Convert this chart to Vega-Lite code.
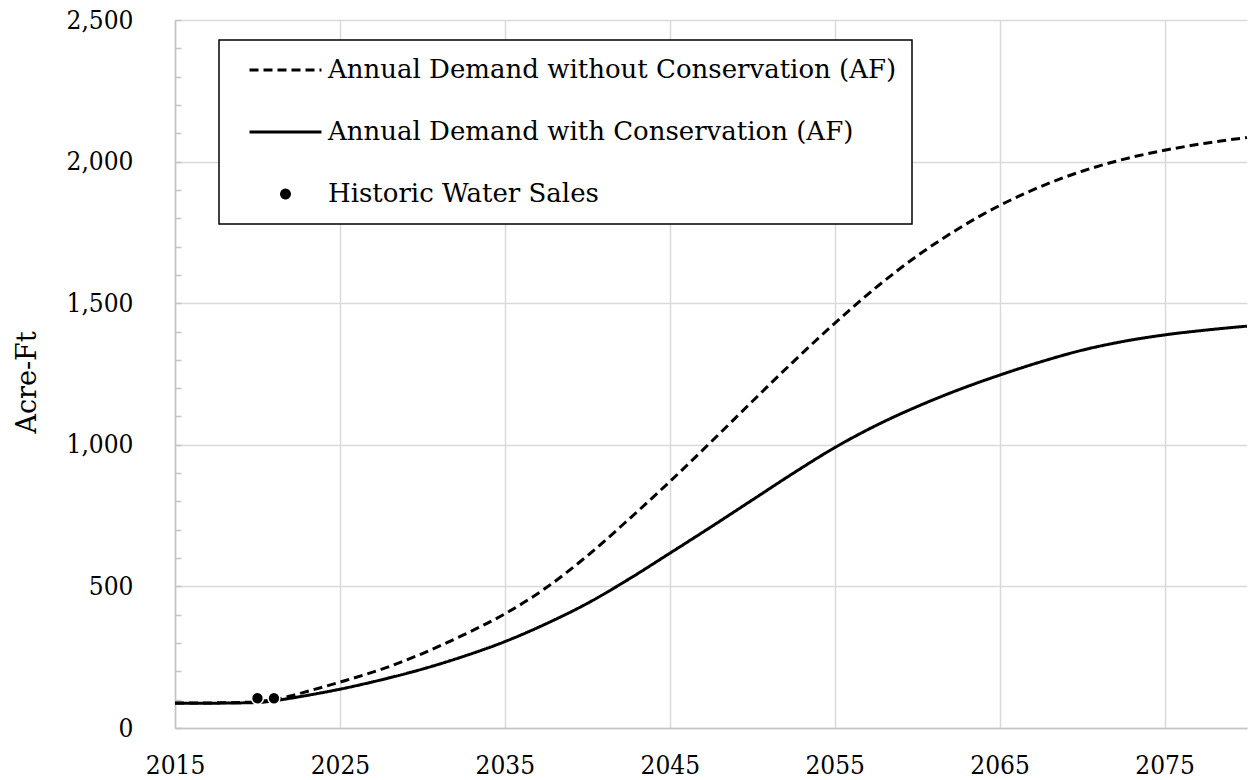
{
  "$schema": "https://vega.github.io/schema/vega-lite/v6.json",
  "width": 1072,
  "height": 708,
  "autosize": {"type": "none"},
  "padding": {"left": 175, "top": 20, "right": 6, "bottom": 52},
  "background": "white",
  "config": {
    "view": {"stroke": null},
    "font": "DejaVu Serif Condensed"
  },
  "datasets": {
    "demand": [
      {"year": 2015, "value": 88, "series": "Annual Demand without Conservation (AF)"},
      {"year": 2018, "value": 89, "series": "Annual Demand without Conservation (AF)"},
      {"year": 2020, "value": 93, "series": "Annual Demand without Conservation (AF)"},
      {"year": 2021, "value": 100, "series": "Annual Demand without Conservation (AF)"},
      {"year": 2022, "value": 113, "series": "Annual Demand without Conservation (AF)"},
      {"year": 2023, "value": 129, "series": "Annual Demand without Conservation (AF)"},
      {"year": 2025, "value": 162, "series": "Annual Demand without Conservation (AF)"},
      {"year": 2027.5, "value": 207, "series": "Annual Demand without Conservation (AF)"},
      {"year": 2030, "value": 263, "series": "Annual Demand without Conservation (AF)"},
      {"year": 2032.5, "value": 329, "series": "Annual Demand without Conservation (AF)"},
      {"year": 2035, "value": 403, "series": "Annual Demand without Conservation (AF)"},
      {"year": 2037.5, "value": 495, "series": "Annual Demand without Conservation (AF)"},
      {"year": 2040, "value": 608, "series": "Annual Demand without Conservation (AF)"},
      {"year": 2042.5, "value": 736, "series": "Annual Demand without Conservation (AF)"},
      {"year": 2045, "value": 870, "series": "Annual Demand without Conservation (AF)"},
      {"year": 2047.5, "value": 1010, "series": "Annual Demand without Conservation (AF)"},
      {"year": 2050, "value": 1153, "series": "Annual Demand without Conservation (AF)"},
      {"year": 2052.5, "value": 1294, "series": "Annual Demand without Conservation (AF)"},
      {"year": 2055, "value": 1429, "series": "Annual Demand without Conservation (AF)"},
      {"year": 2057.5, "value": 1555, "series": "Annual Demand without Conservation (AF)"},
      {"year": 2060, "value": 1667, "series": "Annual Demand without Conservation (AF)"},
      {"year": 2062.5, "value": 1763, "series": "Annual Demand without Conservation (AF)"},
      {"year": 2065, "value": 1845, "series": "Annual Demand without Conservation (AF)"},
      {"year": 2067.5, "value": 1912, "series": "Annual Demand without Conservation (AF)"},
      {"year": 2070, "value": 1966, "series": "Annual Demand without Conservation (AF)"},
      {"year": 2072.5, "value": 2008, "series": "Annual Demand without Conservation (AF)"},
      {"year": 2075, "value": 2040, "series": "Annual Demand without Conservation (AF)"},
      {"year": 2077.5, "value": 2065, "series": "Annual Demand without Conservation (AF)"},
      {"year": 2080, "value": 2085, "series": "Annual Demand without Conservation (AF)"},
      {"year": 2015, "value": 87, "series": "Annual Demand with Conservation (AF)"},
      {"year": 2018, "value": 88, "series": "Annual Demand with Conservation (AF)"},
      {"year": 2020, "value": 90, "series": "Annual Demand with Conservation (AF)"},
      {"year": 2021, "value": 96, "series": "Annual Demand with Conservation (AF)"},
      {"year": 2022, "value": 105, "series": "Annual Demand with Conservation (AF)"},
      {"year": 2023, "value": 115, "series": "Annual Demand with Conservation (AF)"},
      {"year": 2025, "value": 137, "series": "Annual Demand with Conservation (AF)"},
      {"year": 2027.5, "value": 170, "series": "Annual Demand with Conservation (AF)"},
      {"year": 2030, "value": 208, "series": "Annual Demand with Conservation (AF)"},
      {"year": 2032.5, "value": 253, "series": "Annual Demand with Conservation (AF)"},
      {"year": 2035, "value": 305, "series": "Annual Demand with Conservation (AF)"},
      {"year": 2037.5, "value": 368, "series": "Annual Demand with Conservation (AF)"},
      {"year": 2040, "value": 440, "series": "Annual Demand with Conservation (AF)"},
      {"year": 2042.5, "value": 525, "series": "Annual Demand with Conservation (AF)"},
      {"year": 2045, "value": 617, "series": "Annual Demand with Conservation (AF)"},
      {"year": 2047.5, "value": 710, "series": "Annual Demand with Conservation (AF)"},
      {"year": 2050, "value": 805, "series": "Annual Demand with Conservation (AF)"},
      {"year": 2052.5, "value": 900, "series": "Annual Demand with Conservation (AF)"},
      {"year": 2055, "value": 990, "series": "Annual Demand with Conservation (AF)"},
      {"year": 2057.5, "value": 1068, "series": "Annual Demand with Conservation (AF)"},
      {"year": 2060, "value": 1135, "series": "Annual Demand with Conservation (AF)"},
      {"year": 2062.5, "value": 1194, "series": "Annual Demand with Conservation (AF)"},
      {"year": 2065, "value": 1246, "series": "Annual Demand with Conservation (AF)"},
      {"year": 2067.5, "value": 1293, "series": "Annual Demand with Conservation (AF)"},
      {"year": 2070, "value": 1334, "series": "Annual Demand with Conservation (AF)"},
      {"year": 2072.5, "value": 1365, "series": "Annual Demand with Conservation (AF)"},
      {"year": 2075, "value": 1388, "series": "Annual Demand with Conservation (AF)"},
      {"year": 2077.5, "value": 1405, "series": "Annual Demand with Conservation (AF)"},
      {"year": 2080, "value": 1419, "series": "Annual Demand with Conservation (AF)"}
    ],
    "sales": [
      {"year": 2020, "value": 105, "series": "Historic Water Sales"},
      {"year": 2021, "value": 105, "series": "Historic Water Sales"}
    ]
  },
  "encoding": {
    "x": {
      "field": "year", "type": "quantitative",
      "scale": {"domain": [2015, 2080], "nice": false, "zero": false},
      "axis": {
        "title": null,
        "values": [2015, 2025, 2035, 2045, 2055, 2065, 2075],
        "format": "d",
        "ticks": false,
        "grid": true, "gridColor": "#d9d9d9", "gridWidth": 1.5,
        "domainColor": "#c4c4c4", "domainWidth": 1.5,
        "labelFont": "DejaVu Serif Condensed", "labelFontSize": 26, "labelColor": "black",
        "labelBaseline": "alphabetic", "labelPadding": 45, "labelFlush": false
      }
    },
    "y": {
      "field": "value", "type": "quantitative",
      "scale": {"domain": [0, 2500], "nice": false},
      "axis": {
        "title": "Acre-Ft",
        "titleFont": "DejaVu Serif", "titleFontSize": 27, "titleFontWeight": "normal", "titleColor": "black",
        "titleAngle": -90, "titleX": -140, "titleY": 362, "titleAlign": "center", "titleBaseline": "alphabetic",
        "values": [0,100,200,300,400,500,600,700,800,900,1000,1100,1200,1300,1400,1500,1600,1700,1800,1900,2000,2100,2200,2300,2400,2500],
        "labelExpr": "datum.value % 500 === 0 ? format(datum.value, ',') : ''",
        "grid": true, "gridColor": "#d9d9d9", "gridWidth": 1.5,
        "gridOpacity": {"condition": {"test": "datum.value % 500 === 0", "value": 1}, "value": 0},
        "ticks": true, "tickSize": -6, "tickColor": "#c4c4c4", "tickWidth": 1.5,
        "domainColor": "#c4c4c4", "domainWidth": 1.5,
        "labelFont": "DejaVu Serif Condensed", "labelFontSize": 26, "labelColor": "black",
        "labelPadding": 48, "labelBaseline": "middle", "labelFlush": false
      }
    }
  },
  "layer": [
    {
      "data": {"name": "demand"},
      "mark": {"type": "line", "strokeWidth": 3, "interpolate": "monotone"},
      "encoding": {
        "color": {
          "field": "series", "type": "nominal",
          "scale": {"domain": ["Annual Demand without Conservation (AF)", "Annual Demand with Conservation (AF)", "Historic Water Sales"], "range": ["black", "black", "black"]},
          "legend": {
            "orient": "none", "legendX": 44, "legendY": 20, "direction": "vertical",
            "title": null,
            "fillColor": "white", "strokeColor": "black",
            "padding": 15,
            "labelFont": "DejaVu Serif", "labelFontSize": 26, "labelColor": "black", "labelLimit": 0,
            "labelOffset": 5, "symbolOffset": 14,
            "symbolType": "stroke", "symbolSize": 5184, "symbolStrokeWidth": 3, "symbolStrokeColor": "black",
            "rowPadding": 32, "clipHeight": 30,
            "encode": {
              "legend": {"update": {"strokeWidth": {"value": 1.5}}},
              "symbols": {
                "update": {
                  "shape": {"signal": "datum.value === 'Historic Water Sales' ? 'M0.11,0A0.11,0.11,0,1,1,-0.11,0A0.11,0.11,0,1,1,0.11,0Z' : 'stroke'"},
                  "strokeDash": {"signal": "datum.value === 'Annual Demand without Conservation (AF)' ? [9,5] : [1,0]"},
                  "fill": {"signal": "datum.value === 'Historic Water Sales' ? 'black' : 'transparent'"},
                  "stroke": {"value": "black"},
                  "opacity": {"value": 1}
                }
              }
            }
          }
        },
        "strokeDash": {
          "field": "series", "type": "nominal",
          "scale": {"domain": ["Annual Demand without Conservation (AF)", "Annual Demand with Conservation (AF)", "Historic Water Sales"], "range": [[9, 5], [1, 0], [1, 0]]},
          "legend": null
        }
      }
    },
    {
      "data": {"name": "sales"},
      "mark": {"type": "point", "filled": true, "size": 140, "opacity": 1, "stroke": "white", "strokeWidth": 1.5},
      "encoding": {
        "color": {"field": "series", "type": "nominal"}
      }
    }
  ]
}
